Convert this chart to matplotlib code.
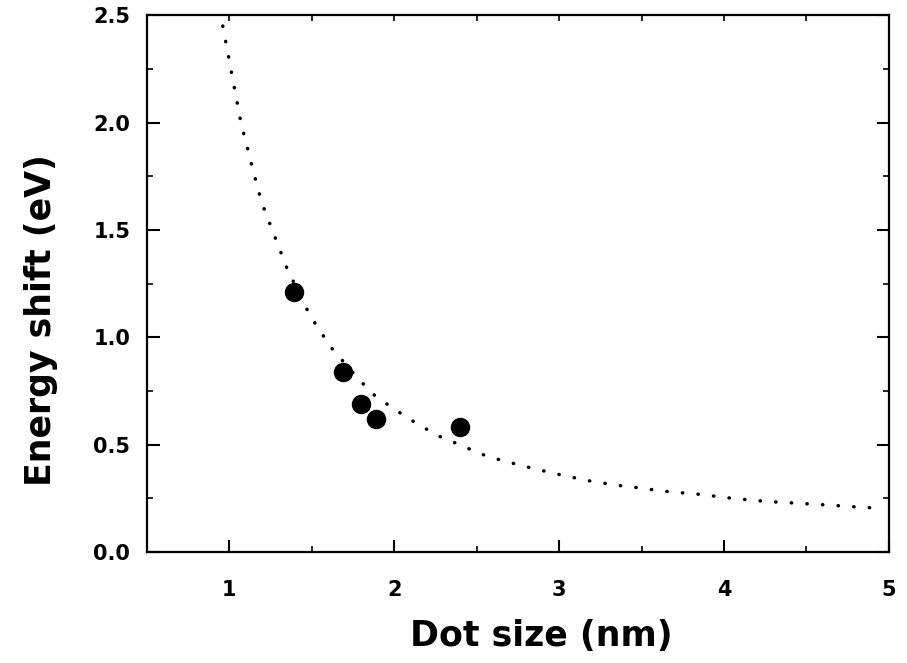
import matplotlib
matplotlib.use("Agg")
import matplotlib.pyplot as plt
from matplotlib.ticker import MultipleLocator, FormatStrFormatter

# measured dot sizes and energy shifts
dot_size = [1.39, 1.69, 1.80, 1.89, 2.40]
energy_shift = [1.21, 0.84, 0.69, 0.62, 0.58]

# dotted theory curve
curve_x = [0.96, 1.07, 1.17, 1.20, 1.27, 1.35, 1.49, 1.55, 1.62, 1.79, 1.88, 1.98,
           2.08, 2.18, 2.28, 2.38, 2.48, 2.57, 2.77, 2.97, 3.17, 3.36, 3.46,
           3.65, 3.86, 4.05, 4.25, 4.45, 4.65, 4.84, 4.95]
curve_y = [2.45, 2.00, 1.70, 1.62, 1.48, 1.32, 1.10, 1.03, 0.95, 0.80, 0.73, 0.676,
           0.625, 0.579, 0.537, 0.505, 0.472, 0.444, 0.403, 0.366, 0.333, 0.310, 0.301,
           0.282, 0.268, 0.250, 0.236, 0.227, 0.218, 0.208, 0.204]

plt.rcParams["font.family"] = ["DejaVu Sans"]
plt.rcParams["font.weight"] = "bold"
plt.rcParams["axes.labelweight"] = "bold"

fig = plt.figure(figsize=(9.07, 6.63), dpi=100)
ax = fig.add_axes([0.162, 0.1674, 0.818, 0.8096])

ax.plot(curve_x, curve_y, color="black", linewidth=2.5,
        linestyle=(0, (0.1, 4.4)), dash_capstyle="round")
ax.plot(dot_size, energy_shift, "o", color="black", markersize=13)

ax.set_xlim(0.5, 5.0)
ax.set_ylim(0.0, 2.5)

ax.xaxis.set_major_locator(MultipleLocator(1))
ax.xaxis.set_minor_locator(MultipleLocator(0.5))
ax.yaxis.set_major_locator(MultipleLocator(0.5))
ax.yaxis.set_minor_locator(MultipleLocator(0.25))
ax.yaxis.set_major_formatter(FormatStrFormatter("%.1f"))

for s in ax.spines.values():
    s.set_linewidth(1.6)

ax.tick_params(which="major", direction="in", length=9, width=1.5,
               right=True, labelsize=15)
ax.tick_params(which="minor", direction="in", length=4, width=1.2, right=True)
ax.tick_params(axis="x", which="major", pad=20)
ax.tick_params(axis="y", which="major", pad=12)

# top edge carries short ticks at every half unit
sec = ax.secondary_xaxis("top")
sec.xaxis.set_major_locator(MultipleLocator(0.5))
sec.tick_params(direction="in", length=4, width=1.2, labeltop=False)
sec.spines["top"].set_visible(False)

ax.set_xlabel("Dot size (nm)", fontsize=25)
ax.set_ylabel("Energy shift (eV)", fontsize=25)
ax.xaxis.set_label_coords(0.532, -0.125)
ax.yaxis.set_label_coords(-0.12, 0.432)

fig.savefig("out.png", dpi=100)
